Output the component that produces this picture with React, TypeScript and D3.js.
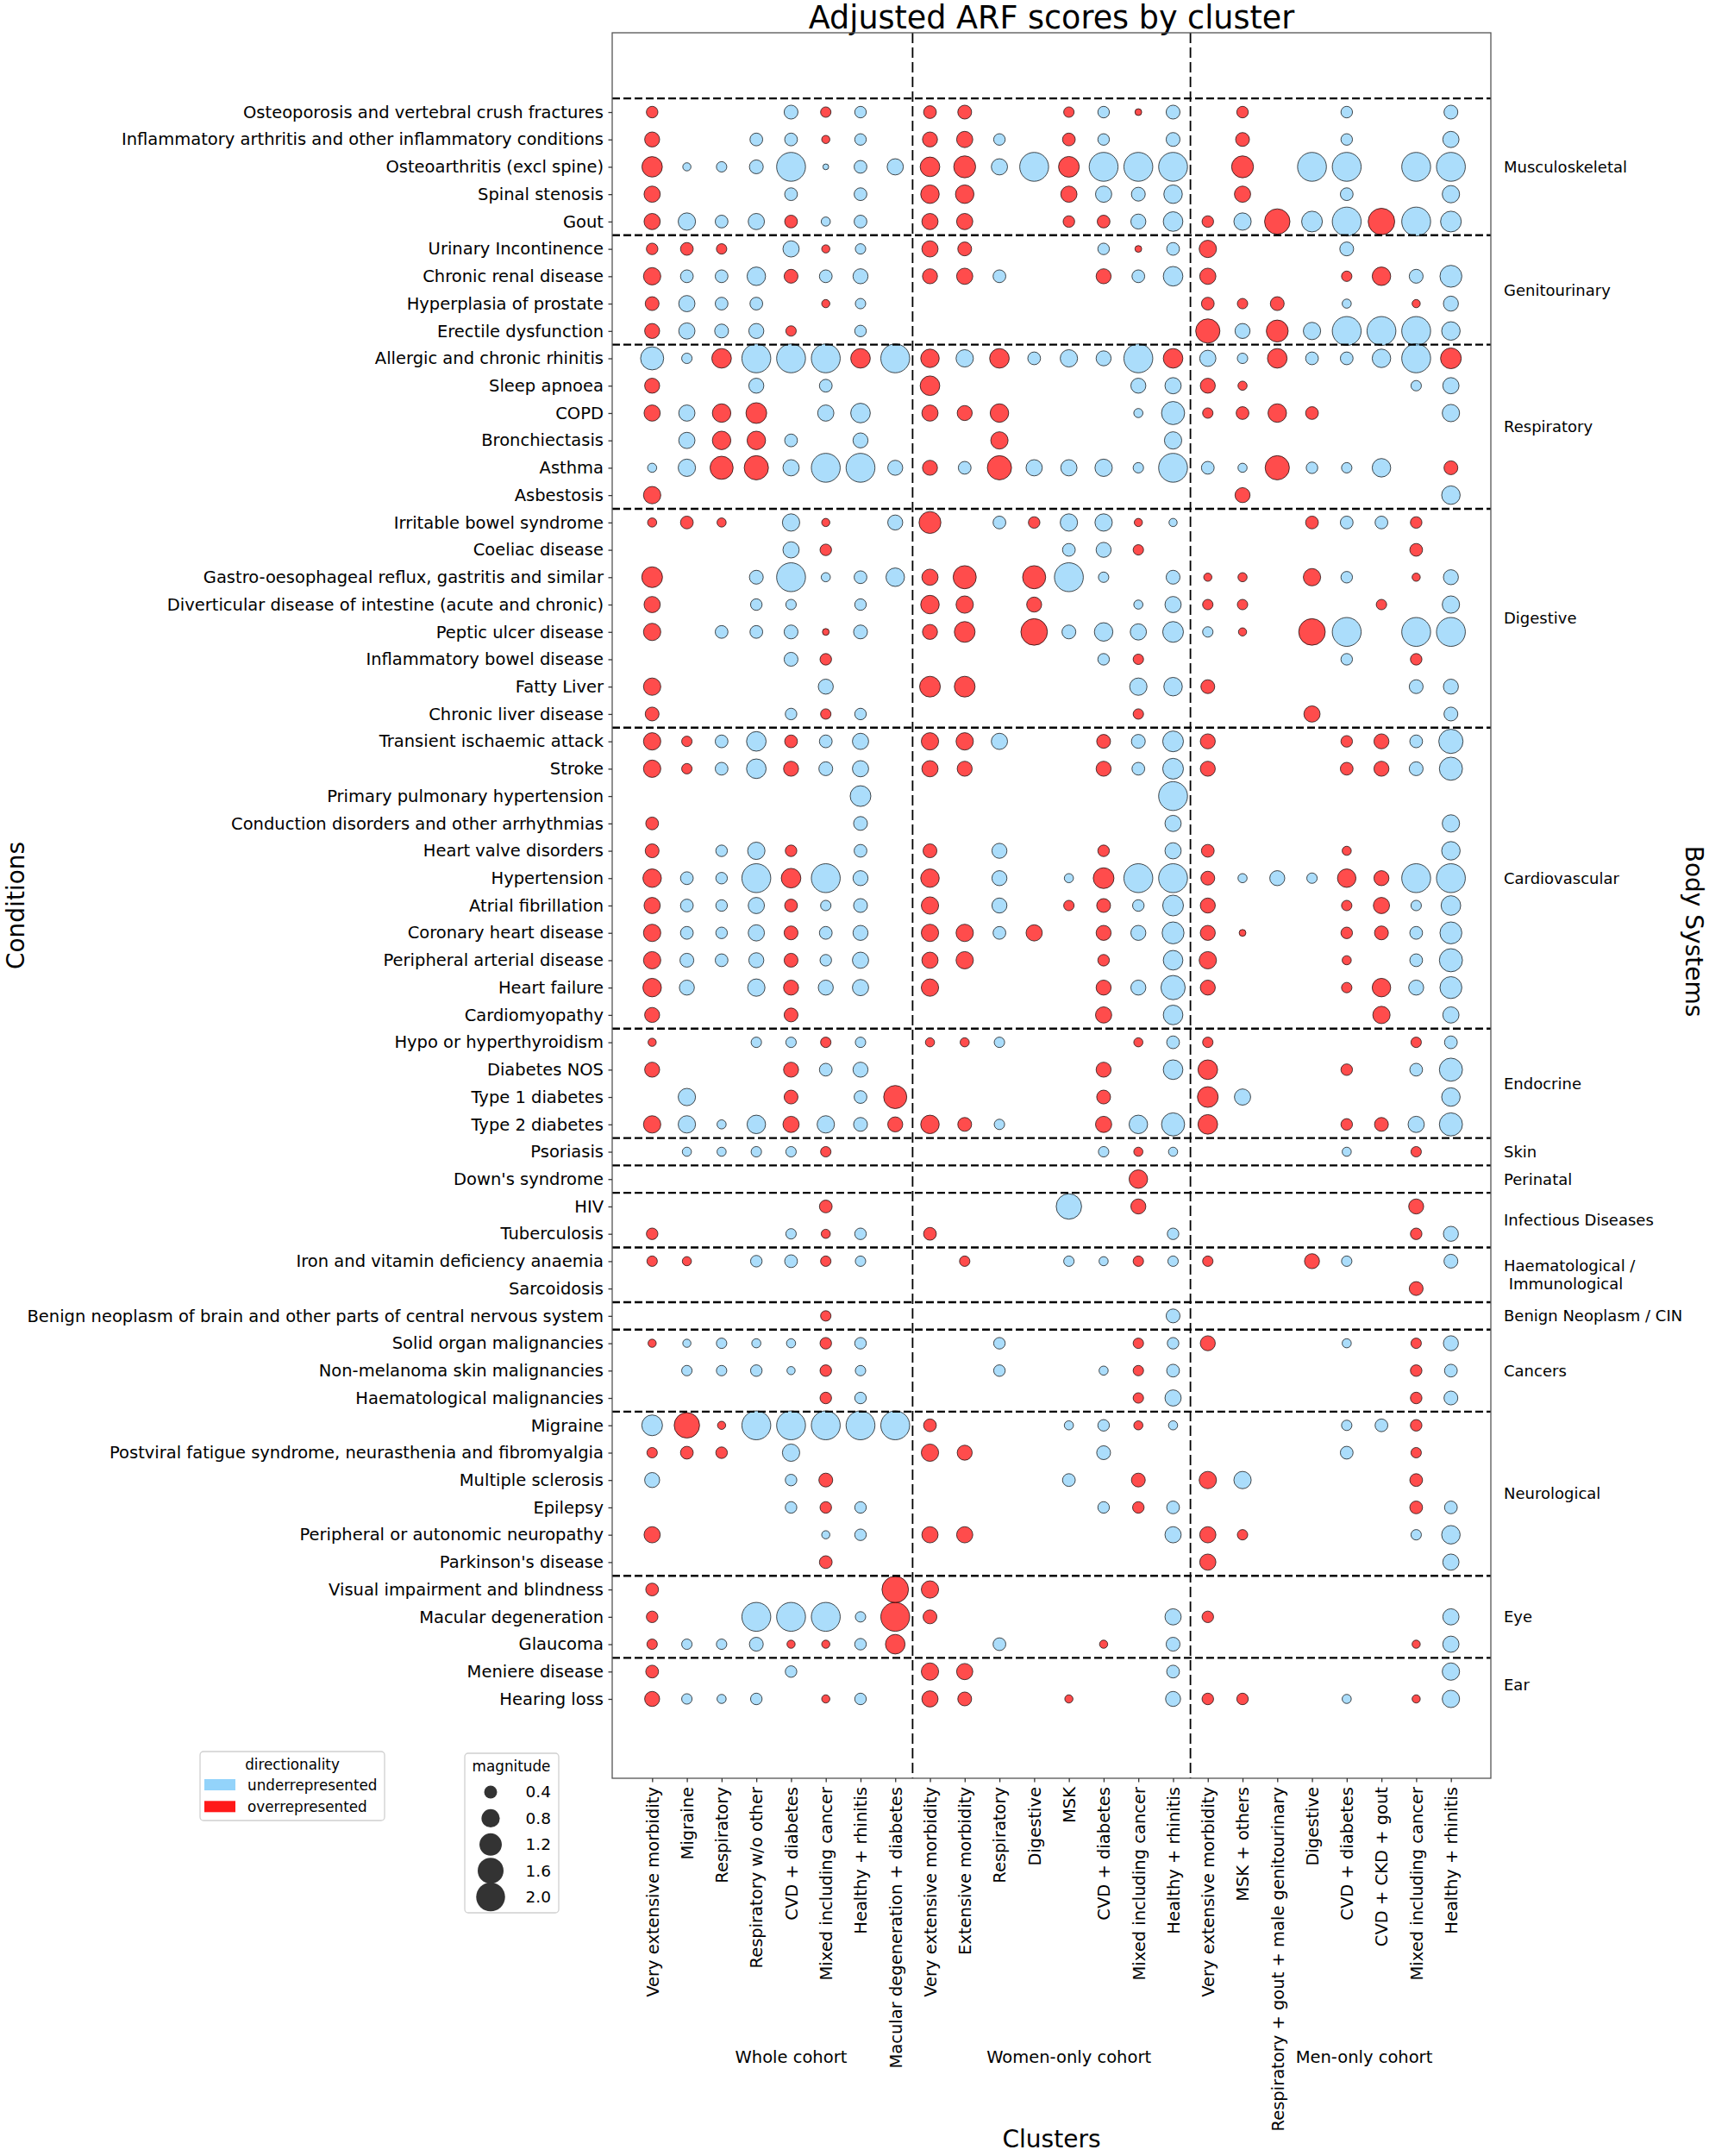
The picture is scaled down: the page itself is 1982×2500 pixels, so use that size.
import React, { useEffect, useRef } from 'react';
import * as d3 from 'd3';

// clusters (x axis), in plotting order
const clusters = [
  "Very extensive morbidity", "Migraine", "Respiratory", "Respiratory w/o other",
  "CVD + diabetes", "Mixed including cancer", "Healthy + rhinitis", "Macular degeneration + diabetes",
  "Very extensive morbidity", "Extensive morbidity", "Respiratory", "Digestive",
  "MSK", "CVD + diabetes", "Mixed including cancer", "Healthy + rhinitis",
  "Very extensive morbidity", "MSK + others", "Respiratory + gout + male genitourinary", "Digestive",
  "CVD + diabetes", "CVD + CKD + gout", "Mixed including cancer", "Healthy + rhinitis",
];
const cohortNames = ["Whole cohort", "Women-only cohort", "Men-only cohort"];
const cohortSizes = [8, 8, 8];
const cohortLabelAt = [4, 12, 20.5];

// conditions and scores per body system
// score > 0 overrepresented, < 0 underrepresented, 0 = not shown
const musculoskeletalConditions = ["Osteoporosis and vertebral crush fractures", "Inflammatory arthritis and other inflammatory conditions", "Osteoarthritis (excl spine)", "Spinal stenosis", "Gout"];
const musculoskeletalScores = [
  [.32, 0, 0, 0, -.46, .26, -.32, 0, .39, .46, 0, 0, .26, -.32, .11, -.46, 0, .32, 0, 0, -.32, 0, 0, -.46],
  [.54, 0, 0, -.39, -.39, .16, -.32, 0, .54, .63, -.32, 0, .39, -.32, 0, -.46, 0, .46, 0, 0, -.32, 0, 0, -.63],
  [1.0, -.16, -.26, -.46, -2, -.08, -.39, -.63, .92, 1.15, -.63, -2, 1.03, -2, -2, -2, 0, 1.15, 0, -2, -2, 0, -2, -2],
  [.63, 0, 0, 0, -.39, 0, -.39, 0, .82, .82, 0, 0, .63, -.63, -.46, -.82, 0, .63, 0, 0, -.39, 0, 0, -.72],
  [.63, -.72, -.39, -.63, .39, -.2, -.39, 0, .63, .63, 0, 0, .32, .39, -.54, -.92, .32, -.72, 1.55, -1.03, -2, 1.69, -2, -1.03],
];
const genitourinaryConditions = ["Urinary Incontinence", "Chronic renal disease", "Hyperplasia of prostate", "Erectile dysfunction"];
const genitourinaryScores = [
  [.32, .39, .26, 0, -.63, .16, -.26, 0, .63, .46, 0, 0, 0, -.32, .11, -.39, .72, 0, 0, 0, -.46, 0, 0, 0],
  [.72, -.39, -.39, -.82, .46, -.39, -.54, 0, .54, .63, -.39, 0, 0, .54, -.39, -.92, .63, 0, 0, 0, .26, .82, -.46, -1.15],
  [.46, -.63, -.39, -.39, 0, .16, -.26, 0, 0, 0, 0, 0, 0, 0, 0, 0, .39, .26, .46, 0, -.2, 0, .16, -.54],
  [.54, -.63, -.46, -.54, .26, 0, -.32, 0, 0, 0, 0, 0, 0, 0, 0, 0, 1.41, -.54, 1.15, -.72, -2, -2, -2, -.82],
];
const respiratoryConditions = ["Allergic and chronic rhinitis", "Sleep apnoea", "COPD", "Bronchiectasis", "Asthma", "Asbestosis"];
const respiratoryScores = [
  [-1.28, -.26, .92, -2, -2, -2, .92, -2, .82, -.72, .92, -.39, -.72, -.54, -2, .92, -.63, -.26, .92, -.39, -.39, -.82, -2, 1.03],
  [.54, 0, 0, -.54, 0, -.39, 0, 0, .92, 0, 0, 0, 0, 0, -.54, -.63, .54, .2, 0, 0, 0, 0, -.26, -.63],
  [.63, -.63, .82, 1.03, 0, -.63, -.92, 0, .63, .54, .82, 0, 0, 0, -.2, -1.28, .26, .39, .82, .39, 0, 0, 0, -.72],
  [0, -.63, .82, .82, -.39, 0, -.54, 0, 0, 0, .72, 0, 0, 0, 0, -.72, 0, 0, 0, 0, 0, 0, 0, 0],
  [-.2, -.72, 1.28, 1.41, -.63, -2, -2, -.54, .54, -.39, 1.41, -.63, -.63, -.72, -.26, -2, -.39, -.2, 1.41, -.32, -.26, -.82, 0, .46],
  [.72, 0, 0, 0, 0, 0, 0, 0, 0, 0, 0, 0, 0, 0, 0, 0, 0, .54, 0, 0, 0, 0, 0, -.82],
];
const digestiveConditions = ["Irritable bowel syndrome", "Coeliac disease", "Gastro-oesophageal reflux, gastritis and similar", "Diverticular disease of intestine (acute and chronic)", "Peptic ulcer disease", "Inflammatory bowel disease", "Fatty Liver", "Chronic liver disease"];
const digestiveScores = [
  [.2, .39, .2, 0, -.72, .16, 0, -.54, 1.15, 0, -.39, .32, -.72, -.72, .16, -.16, 0, 0, 0, .39, -.39, -.39, .32, 0],
  [0, 0, 0, 0, -.63, .32, 0, 0, 0, 0, 0, 0, -.39, -.54, .26, 0, 0, 0, 0, 0, 0, 0, .39, 0],
  [1.03, 0, 0, -.46, -2, -.2, -.39, -.82, .63, 1.28, 0, 1.28, -2, -.26, 0, -.46, .16, .2, 0, .72, -.32, 0, .16, -.54],
  [.63, 0, 0, -.32, -.26, 0, -.32, 0, .82, .72, 0, .54, 0, 0, -.2, -.63, .26, .26, 0, 0, 0, .26, 0, -.72],
  [.72, 0, -.39, -.39, -.46, .11, -.46, 0, .54, 1.03, 0, 1.69, -.46, -.82, -.63, -1.03, -.26, .16, 0, 1.69, -2, 0, -2, -2],
  [0, 0, 0, 0, -.46, .32, 0, 0, 0, 0, 0, 0, 0, -.32, .26, 0, 0, 0, 0, 0, -.32, 0, .32, 0],
  [.72, 0, 0, 0, 0, -.54, 0, 0, 1.03, 1.03, 0, 0, 0, 0, -.72, -.82, .46, 0, 0, 0, 0, 0, -.46, -.54],
  [.46, 0, 0, 0, -.32, .26, -.32, 0, 0, 0, 0, 0, 0, 0, .26, 0, 0, 0, 0, .63, 0, 0, 0, -.46],
];
const cardiovascularConditions = ["Transient ischaemic attack", "Stroke", "Primary pulmonary hypertension", "Conduction disorders and other arrhythmias", "Heart valve disorders", "Hypertension", "Atrial fibrillation", "Coronary heart disease", "Peripheral arterial disease", "Heart failure", "Cardiomyopathy"];
const cardiovascularScores = [
  [.72, .26, -.39, -.92, .39, -.39, -.63, 0, .72, .72, -.63, 0, 0, .46, -.46, -1.03, .54, 0, 0, 0, .32, .54, -.39, -1.41],
  [.72, .26, -.39, -.92, .54, -.46, -.63, 0, .63, .54, 0, 0, 0, .54, -.39, -1.03, .54, 0, 0, 0, .39, .54, -.46, -1.28],
  [0, 0, 0, 0, 0, 0, -1.03, 0, 0, 0, 0, 0, 0, 0, 0, -2, 0, 0, 0, 0, 0, 0, 0, 0],
  [.39, 0, 0, 0, 0, 0, -.46, 0, 0, 0, 0, 0, 0, 0, 0, -.63, 0, 0, 0, 0, 0, 0, 0, -.72],
  [.46, 0, -.32, -.72, .32, 0, -.39, 0, .46, 0, -.54, 0, 0, .32, 0, -.63, .39, 0, 0, 0, .2, 0, 0, -.82],
  [.82, -.39, -.32, -2, .92, -2, -.54, 0, .82, 0, -.54, 0, -.2, 1.03, -2, -2, .46, -.2, -.54, -.26, .82, .54, -2, -2],
  [.63, -.39, -.32, -.63, .39, -.26, -.46, 0, .72, 0, -.54, 0, .26, .46, -.32, -1.03, .54, 0, 0, 0, .26, .63, -.26, -.92],
  [.72, -.39, -.32, -.63, .46, -.39, -.54, 0, .72, .72, -.39, .63, 0, .54, -.54, -1.15, .54, .11, 0, 0, .32, .46, -.39, -1.15],
  [.72, -.46, -.39, -.54, .46, -.32, -.63, 0, .63, .72, 0, 0, 0, .32, 0, -.92, .72, 0, 0, 0, .2, 0, -.39, -1.28],
  [.82, -.54, 0, -.72, .54, -.54, -.63, 0, .72, 0, 0, 0, 0, .54, -.54, -1.41, .54, 0, 0, 0, .26, .82, -.54, -1.15],
  [.54, 0, 0, 0, .46, 0, 0, 0, 0, 0, 0, 0, 0, .63, 0, -.92, 0, 0, 0, 0, 0, .72, 0, -.63],
];
const endocrineConditions = ["Hypo or hyperthyroidism", "Diabetes NOS", "Type 1 diabetes", "Type 2 diabetes"];
const endocrineScores = [
  [.16, 0, 0, -.26, -.26, .26, -.26, 0, .2, .2, -.26, 0, 0, 0, .2, -.39, .26, 0, 0, 0, 0, 0, .26, -.39],
  [.54, 0, 0, 0, .54, -.39, -.54, 0, 0, 0, 0, 0, 0, .54, 0, -.92, .92, 0, 0, 0, .32, 0, -.39, -1.28],
  [0, -.72, 0, 0, .46, 0, -.39, 1.28, 0, 0, 0, 0, 0, .46, 0, 0, 1.03, -.63, 0, 0, 0, 0, 0, -.82],
  [.72, -.72, -.2, -.82, .63, -.72, -.46, .54, .82, .46, -.26, 0, 0, .63, -.82, -1.28, .92, 0, 0, 0, .32, .46, -.63, -1.28],
];
const skinConditions = ["Psoriasis"];
const skinScores = [
  [0, -.2, -.2, -.26, -.26, .26, 0, 0, 0, 0, 0, 0, 0, -.26, .2, -.2, 0, 0, 0, 0, -.2, 0, .26, 0],
];
const perinatalConditions = ["Down's syndrome"];
const perinatalScores = [
  [0, 0, 0, 0, 0, 0, 0, 0, 0, 0, 0, 0, 0, 0, .82, 0, 0, 0, 0, 0, 0, 0, 0, 0],
];
const infectiousConditions = ["HIV", "Tuberculosis"];
const infectiousScores = [
  [0, 0, 0, 0, 0, .39, 0, 0, 0, 0, 0, 0, -1.55, 0, .54, 0, 0, 0, 0, 0, 0, 0, .54, 0],
  [.32, 0, 0, 0, -.26, .2, -.32, 0, .39, 0, 0, 0, 0, 0, 0, -.32, 0, 0, 0, 0, 0, 0, .32, -.54],
];
const haematologicalConditions = ["Iron and vitamin deficiency anaemia", "Sarcoidosis"];
const haematologicalScores = [
  [.26, .2, 0, -.32, -.39, .26, -.26, 0, 0, .26, 0, 0, -.26, -.2, .26, -.26, .26, 0, 0, .54, -.26, 0, 0, -.46],
  [0, 0, 0, 0, 0, 0, 0, 0, 0, 0, 0, 0, 0, 0, 0, 0, 0, 0, 0, 0, 0, 0, .46, 0],
];
const benignConditions = ["Benign neoplasm of brain and other parts of central nervous system"];
const benignScores = [
  [0, 0, 0, 0, 0, .26, 0, 0, 0, 0, 0, 0, 0, 0, 0, -.46, 0, 0, 0, 0, 0, 0, 0, 0],
];
const cancerConditions = ["Solid organ malignancies", "Non-melanoma skin malignancies", "Haematological malignancies"];
const cancerScores = [
  [.16, -.16, -.26, -.2, -.2, .32, -.32, 0, 0, 0, -.32, 0, 0, 0, .26, -.32, .54, 0, 0, 0, -.2, 0, .26, -.54],
  [0, -.26, -.26, -.32, -.16, .32, -.26, 0, 0, 0, -.32, 0, 0, -.2, .26, -.39, 0, 0, 0, 0, 0, 0, .32, -.39],
  [0, 0, 0, 0, 0, .32, -.32, 0, 0, 0, 0, 0, 0, 0, .26, -.63, 0, 0, 0, 0, 0, 0, .32, -.46],
];
const neurologicalConditions = ["Migraine", "Postviral fatigue syndrome, neurasthenia and fibromyalgia", "Multiple sclerosis", "Epilepsy", "Peripheral or autonomic neuropathy", "Parkinson's disease"];
const neurologicalScores = [
  [-1.03, 1.55, .16, -2, -2, -2, -2, -2, .39, 0, 0, 0, -.2, -.32, .2, -.2, 0, 0, 0, 0, -.26, -.39, .32, 0],
  [.26, .39, .32, 0, -.72, 0, 0, 0, .72, .54, 0, 0, 0, -.46, 0, 0, 0, 0, 0, 0, -.39, 0, .26, 0],
  [-.54, 0, 0, 0, -.32, .46, 0, 0, 0, 0, 0, 0, -.39, 0, .46, 0, .72, -.72, 0, 0, 0, 0, .39, 0],
  [0, 0, 0, 0, -.32, .32, -.32, 0, 0, 0, 0, 0, 0, -.32, .32, -.39, 0, 0, 0, 0, 0, 0, .39, -.39],
  [.63, 0, 0, 0, 0, -.16, -.32, 0, .63, .63, 0, 0, 0, 0, 0, -.63, .63, .26, 0, 0, 0, 0, -.26, -.82],
  [0, 0, 0, 0, 0, .39, 0, 0, 0, 0, 0, 0, 0, 0, 0, 0, .63, 0, 0, 0, 0, 0, 0, -.63],
];
const eyeConditions = ["Visual impairment and blindness", "Macular degeneration", "Glaucoma"];
const eyeScores = [
  [.39, 0, 0, 0, 0, 0, 0, 1.69, .72, 0, 0, 0, 0, 0, 0, 0, 0, 0, 0, 0, 0, 0, 0, 0],
  [.32, 0, 0, -2, -2, -2, -.26, 2, .46, 0, 0, 0, 0, 0, 0, -.63, .32, 0, 0, 0, 0, 0, 0, -.63],
  [.26, -.26, -.26, -.46, .16, .16, -.32, .92, 0, 0, -.39, 0, 0, .16, 0, -.46, 0, 0, 0, 0, 0, 0, .16, -.63],
];
const earConditions = ["Meniere disease", "Hearing loss"];
const earScores = [
  [.39, 0, 0, 0, -.32, 0, 0, 0, .72, .63, 0, 0, 0, 0, 0, -.39, 0, 0, 0, 0, 0, 0, 0, -.72],
  [.54, -.26, -.2, -.32, 0, .16, -.32, 0, .63, .46, 0, 0, .16, 0, 0, -.54, .32, .32, 0, 0, -.2, 0, .16, -.72],
];

const bodySystems = [
  { name: "Musculoskeletal", conditions: musculoskeletalConditions, scores: musculoskeletalScores },
  { name: "Genitourinary", conditions: genitourinaryConditions, scores: genitourinaryScores },
  { name: "Respiratory", conditions: respiratoryConditions, scores: respiratoryScores },
  { name: "Digestive", conditions: digestiveConditions, scores: digestiveScores },
  { name: "Cardiovascular", conditions: cardiovascularConditions, scores: cardiovascularScores },
  { name: "Endocrine", conditions: endocrineConditions, scores: endocrineScores },
  { name: "Skin", conditions: skinConditions, scores: skinScores },
  { name: "Perinatal", conditions: perinatalConditions, scores: perinatalScores },
  { name: "Infectious Diseases", conditions: infectiousConditions, scores: infectiousScores },
  { name: "Haematological /\n Immunological", conditions: haematologicalConditions, scores: haematologicalScores },
  { name: "Benign Neoplasm / CIN", conditions: benignConditions, scores: benignScores },
  { name: "Cancers", conditions: cancerConditions, scores: cancerScores },
  { name: "Neurological", conditions: neurologicalConditions, scores: neurologicalScores },
  { name: "Eye", conditions: eyeConditions, scores: eyeScores },
  { name: "Ear", conditions: earConditions, scores: earScores },
];

const legendMagnitudes = [0.4, 0.8, 1.2, 1.6, 2.0];

const W = 1982, H = 2500;
const plot = { left: 710, right: 1729, top: 38, bottom: 2062 };
const FONT = "DejaVu Sans";
const RED = "#ff0000", BLUE = "#87cefa";

function drawChart(el: SVGSVGElement) {
  const svg = d3.select(el);
  svg.selectAll("*").remove();
  svg.attr("font-family", FONT);

  svg.append("rect").attr("width", W).attr("height", H).attr("fill", "#fff");

  // flatten rows, remember where each body system starts
  let start = 0;
  const groups = bodySystems.map(b => { const g = { ...b, start }; start += b.conditions.length; return g; });
  const rows = groups.flatMap(g => g.conditions.map((c, i) => ({ condition: c, scores: g.scores[i] })));

  const x = d3.scaleLinear().domain([-1.15, clusters.length - 1 + 1.15]).range([plot.left, plot.right]);
  const y = d3.scaleLinear().domain([-2.9, rows.length - 1 + 2.9]).range([plot.top, plot.bottom]);
  const r = d3.scaleSqrt().domain([0, 2]).range([0, 16.75]);

  // title
  svg.append("text")
    .attr("x", (plot.left + plot.right) / 2).attr("y", 33)
    .attr("text-anchor", "middle").attr("font-size", 36.5)
    .text("Adjusted ARF scores by cluster");

  // bubbles
  const points = rows.flatMap((row, i) => row.scores.map((v, j) => ({ i, j, v }))).filter(d => d.v !== 0);
  svg.append("g").selectAll("circle")
    .data(points)
    .join("circle")
    .attr("cx", d => x(d.j))
    .attr("cy", d => y(d.i))
    .attr("r", d => r(Math.abs(d.v)))
    .attr("fill", d => d.v > 0 ? RED : BLUE)
    .attr("fill-opacity", 0.7)
    .attr("stroke", "#000")
    .attr("stroke-opacity", 0.7)
    .attr("stroke-width", 1);

  // separators between body systems
  svg.append("g").selectAll("line")
    .data(groups)
    .join("line")
    .attr("x1", plot.left).attr("x2", plot.right)
    .attr("y1", d => y(d.start - 0.5)).attr("y2", d => y(d.start - 0.5))
    .attr("stroke", "#000").attr("stroke-width", 2.4).attr("stroke-dasharray", "9,4");

  // separators between cohorts
  const cohortEnds = d3.cumsum(cohortSizes).slice(0, -1);
  svg.append("g").selectAll("line")
    .data(Array.from(cohortEnds))
    .join("line")
    .attr("x1", d => x(d - 0.5)).attr("x2", d => x(d - 0.5))
    .attr("y1", plot.top).attr("y2", plot.bottom)
    .attr("stroke", "#000").attr("stroke-width", 1.8).attr("stroke-dasharray", "12,5");

  // frame
  svg.append("rect")
    .attr("x", plot.left).attr("y", plot.top)
    .attr("width", plot.right - plot.left).attr("height", plot.bottom - plot.top)
    .attr("fill", "none").attr("stroke", "#555").attr("stroke-width", 1.3);

  // left axis: conditions
  const yAxis = svg.append("g")
    .attr("transform", `translate(${plot.left},0)`)
    .call(d3.axisLeft(y).tickValues(d3.range(rows.length)).tickFormat(i => rows[+i].condition).tickSize(4.5).tickPadding(5.5));
  yAxis.select(".domain").remove();
  yAxis.selectAll("line").attr("stroke", "#333").attr("stroke-width", 1.3);
  yAxis.selectAll("text").attr("font-size", 19.5).attr("font-family", FONT).attr("fill", "#000");

  // bottom axis: clusters
  const xAxis = svg.append("g")
    .attr("transform", `translate(0,${plot.bottom})`)
    .call(d3.axisBottom(x).tickValues(d3.range(clusters.length)).tickFormat(j => clusters[+j]).tickSize(4.5).tickPadding(5.5));
  xAxis.select(".domain").remove();
  xAxis.selectAll("line").attr("stroke", "#333").attr("stroke-width", 1.3);
  xAxis.selectAll("text")
    .attr("font-size", 19.5).attr("font-family", FONT).attr("fill", "#000")
    .attr("transform", "rotate(-90)")
    .attr("text-anchor", "end")
    .attr("x", -10).attr("y", 0).attr("dy", "0.35em");

  // right labels: body systems
  const right = svg.append("g").attr("font-size", 18);
  groups.forEach(g => {
    const lines = g.name.split("\n");
    const cy = y(g.start + (g.conditions.length - 1) / 2);
    const t = right.append("text").attr("x", plot.right + 15).attr("y", cy - (lines.length - 1) * 10.5);
    lines.forEach((l, k) => t.append("tspan").attr("x", plot.right + 15).attr("dy", k === 0 ? "0.35em" : "1.15em")
      .text(l.replace(/^ /, "\u00a0")));
  });

  // cohort labels
  svg.append("g").selectAll("text")
    .data(cohortNames)
    .join("text")
    .attr("x", (d, k) => x(cohortLabelAt[k]))
    .attr("y", 2392)
    .attr("text-anchor", "middle").attr("font-size", 19.5)
    .text(d => d);

  // axis titles
  svg.append("text").attr("transform", `translate(18,${(plot.top + plot.bottom) / 2}) rotate(-90)`)
    .attr("text-anchor", "middle").attr("dominant-baseline", "central").attr("font-size", 28).text("Conditions");
  svg.append("text").attr("transform", `translate(1964,${(plot.top + plot.bottom) / 2 + 30}) rotate(90)`)
    .attr("text-anchor", "middle").attr("dominant-baseline", "central").attr("font-size", 28).text("Body Systems");
  svg.append("text").attr("x", (plot.left + plot.right) / 2).attr("y", 2490)
    .attr("text-anchor", "middle").attr("font-size", 28).text("Clusters");

  // directionality legend
  const dir = svg.append("g").attr("font-size", 16.8);
  dir.append("rect").attr("x", 232).attr("y", 2031).attr("width", 214).attr("height", 80).attr("rx", 4)
    .attr("fill", "#fff").attr("stroke", "#d0d0d0").attr("stroke-width", 1.3);
  dir.append("text").attr("x", 339).attr("y", 2052).attr("text-anchor", "middle").text("directionality");
  [["underrepresented", BLUE], ["overrepresented", RED]].forEach(([label, color], k) => {
    dir.append("rect").attr("x", 237).attr("y", 2063 + k * 25.3).attr("width", 36).attr("height", 13)
      .attr("fill", color).attr("fill-opacity", 0.9);
    dir.append("text").attr("x", 287).attr("y", 2075.5 + k * 25.3).text(label);
  });

  // magnitude legend
  const mag = svg.append("g").attr("font-size", 18.5);
  mag.append("rect").attr("x", 539).attr("y", 2033).attr("width", 109).attr("height", 185).attr("rx", 4)
    .attr("fill", "#fff").attr("stroke", "#d0d0d0").attr("stroke-width", 1.3);
  mag.append("text").attr("x", 593).attr("y", 2054).attr("text-anchor", "middle").attr("font-size", 16.8).text("magnitude");
  legendMagnitudes.forEach((m, k) => {
    const cy = 2078 + k * 30.4;
    mag.append("circle").attr("cx", 569).attr("cy", cy).attr("r", r(m)).attr("fill", "#333");
    mag.append("text").attr("x", 639).attr("y", cy).attr("dy", "0.35em").attr("text-anchor", "end").text(m.toFixed(1));
  });
}

export default function App() {
  const ref = useRef<SVGSVGElement>(null);
  useEffect(() => {
    if (ref.current) drawChart(ref.current);
  }, []);
  return (
    <svg ref={ref} width={W} height={H}
      style={{ position: "absolute", left: 0, top: 0, display: "block", background: "#fff" }} />
  );
}
